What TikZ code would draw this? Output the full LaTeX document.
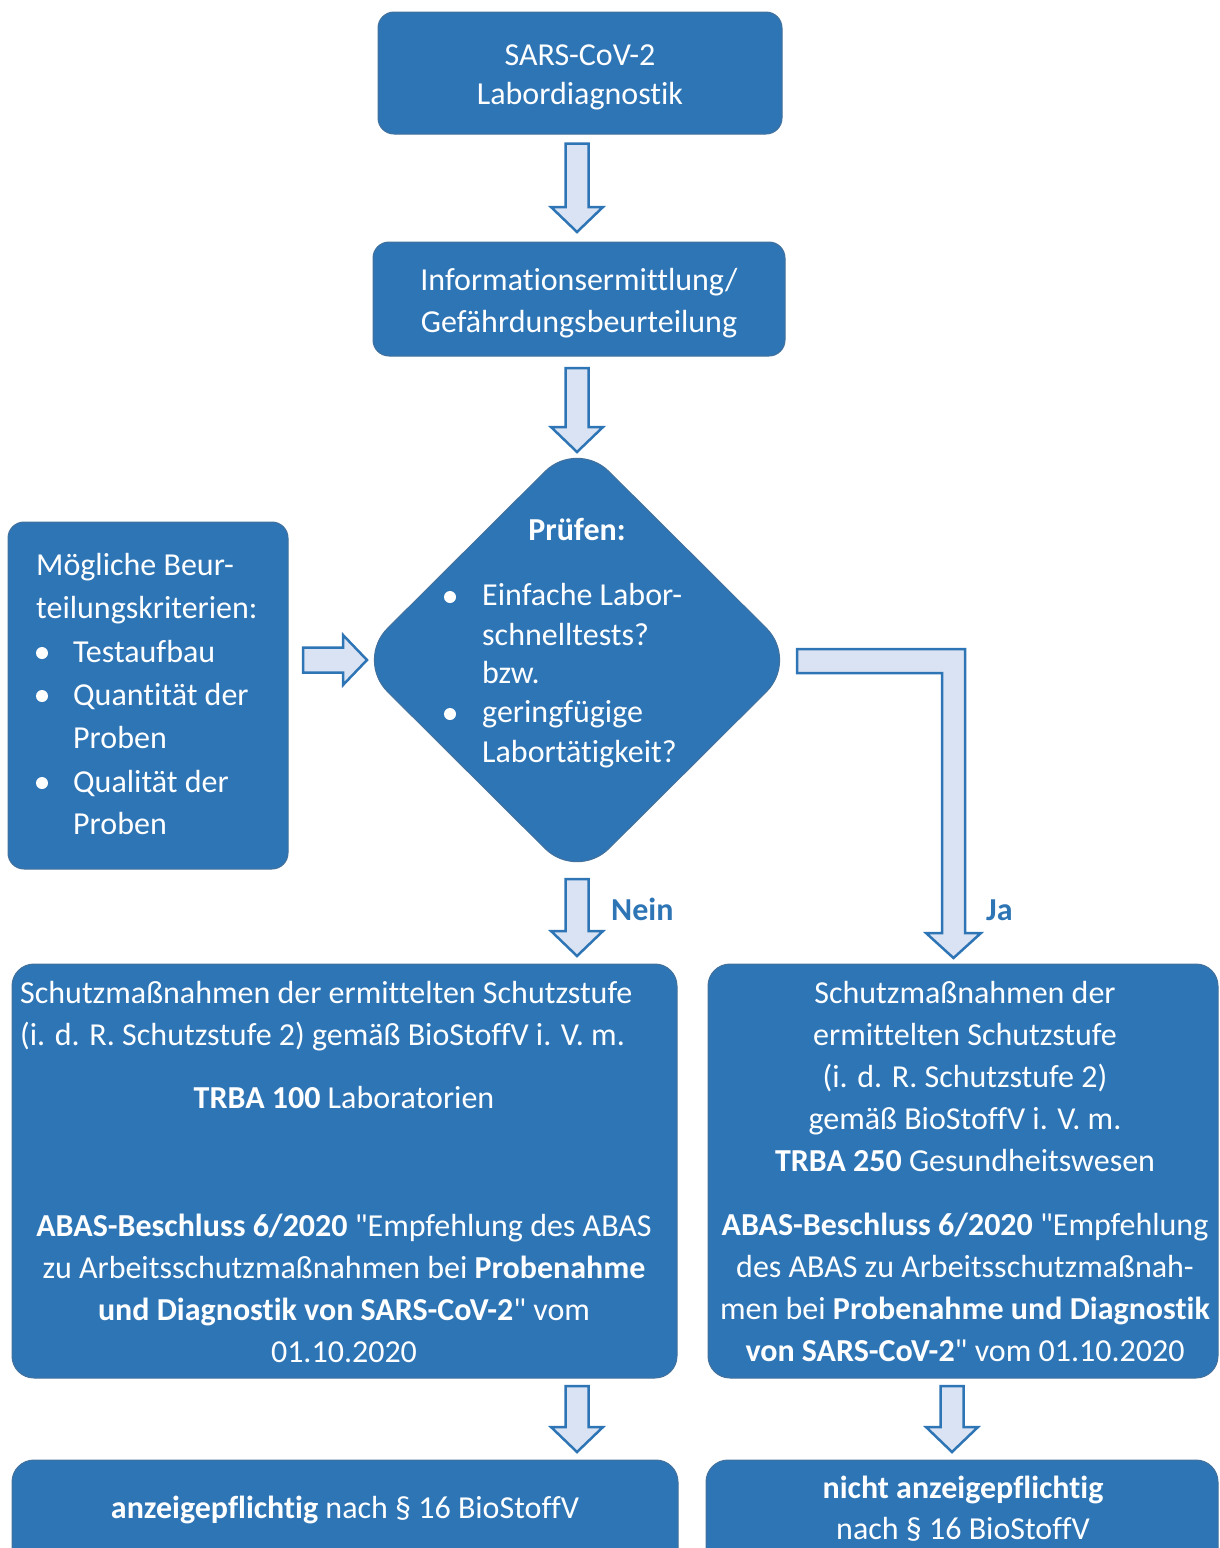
\documentclass[tikz,border=0pt]{standalone}
\usepackage{fontspec}
\setmainfont{Carlito}[Ligatures={TeXOff,CommonOff}]
\usetikzlibrary{shapes.geometric,calc}
\definecolor{boxblue}{HTML}{2E75B6}
\definecolor{boxedge}{HTML}{41719C}
\definecolor{arrowfill}{HTML}{DAE3F3}
\tikzset{
  box/.style={rounded corners=16pt, fill=boxblue, draw=boxedge, line width=1pt, inner sep=0pt},
  bigbox/.style={box, rounded corners=22pt},
  txt/.style={text=white, font=\fontsize{32}{42}\selectfont, inner sep=0pt},
  blk/.style={fill=arrowfill, draw=boxblue, line width=2.5pt, line join=miter},
  lbl/.style={text=boxblue, font=\fontsize{32}{42}\selectfont\bfseries, inner sep=0pt},
  bul/.style={fill=white}
}
\newcommand\blkdown[2]{\draw[blk] let \p1=(#1),\p2=(#2) in
  (\x1-11.5pt,\y1) -- (\x1+11.5pt,\y1) -- (\x1+11.5pt,\y2+25pt) -- (\x1+26pt,\y2+25pt)
  -- (\x1,\y2) -- (\x1-26pt,\y2+25pt) -- (\x1-11.5pt,\y2+25pt) -- cycle;}
\begin{document}
\begin{tikzpicture}[x=1pt,y=-1pt]
\useasboundingbox (0,0) rectangle (1219,1548);
\clip (0,0) rectangle (1219,1548);

% boxes
\node[box, minimum width=404pt, minimum height=122pt] (b1) at (580,73) {};
\node[box, minimum width=412pt, minimum height=114pt] (b2) at (579,299) {};
\node[diamond, aspect=1, fill=boxblue, draw=boxedge, line width=1pt, rounded corners=45pt,
      minimum width=443pt, minimum height=441pt, inner sep=0pt] (dia) at (577,660) {};
\node[box, minimum width=280pt, minimum height=347pt] (lb) at (148,695.5) {};
\node[bigbox, minimum width=665pt, minimum height=414pt] (nl) at (344.5,1171) {};
\node[bigbox, minimum width=510pt, minimum height=414pt] (nr) at (963,1171) {};
\node[bigbox, minimum width=666pt, minimum height=160pt] (el) at (345,1540) {};
\node[bigbox, minimum width=512pt, minimum height=160pt] (er) at (962,1540) {};

% texts
\node[txt, anchor=base] (t1a) at (580,65) {SARS-CoV-2};
\node[txt, anchor=base] (t1b) at (580,104) {Labordiagnostik};
\node[txt, anchor=base] (t2a) at (579,290) {Informationsermittlung/};
\node[txt, anchor=base] (t2b) at (579,332) {Gefährdungsbeurteilung};

\node[txt, anchor=base, font=\fontsize{32}{42}\selectfont\bfseries] (dp) at (577,540) {Prüfen:};
\foreach \s/\y [count=\i] in {{Einfache Labor-}/605, {schnelltests?}/645, {bzw.}/683, {geringfügige}/722, {Labortätigkeit?}/762}
  \node[txt, anchor=base west] (d\i) at (482,\y) {\s};
\fill[bul] (450,597) circle (6pt);
\fill[bul] (450,714) circle (6pt);

\node[txt, anchor=base west] (l1) at (36,575) {Mögliche Beur-};
\node[txt, anchor=base west] (l2) at (36,618) {teilungskriterien:};
\foreach \s/\y [count=\i from 3] in {{Testaufbau}/662, {Quantität der}/705, {Proben}/748, {Qualität der}/792, {Proben}/834}
  \node[txt, anchor=base west] (l\i) at (73,\y) {\s};
\fill[bul] (42,653) circle (6pt);
\fill[bul] (42,696) circle (6pt);
\fill[bul] (42,783) circle (6pt);

\node[txt, anchor=base west] (n1) at (20,1003) {Schutzmaßnahmen der ermittelten Schutzstufe};
\node[txt, anchor=base west] (n2) at (20,1045) {(i. d. R. Schutzstufe 2) gemäß BioStoffV i. V. m.};
\node[txt, anchor=base] (n3) at (344,1108) {\textbf{TRBA 100} Laboratorien};
\foreach \s/\y [count=\i from 4] in {
  {\textbf{ABAS-Beschluss 6/2020} "Empfehlung des ABAS}/1236,
  {zu Arbeitsschutzmaßnahmen bei \textbf{Probenahme}}/1278,
  {\textbf{und Diagnostik von SARS-CoV-2}" vom}/1320,
  {01.10.2020}/1362}
  \node[txt, anchor=base] (n\i) at (344,\y) {\s};

\foreach \s/\y [count=\i] in {
  {Schutzmaßnahmen der}/1003,
  {ermittelten Schutzstufe}/1045,
  {(i. d. R. Schutzstufe 2)}/1087,
  {gemäß BioStoffV i. V. m.}/1129,
  {\textbf{TRBA 250} Gesundheitswesen}/1171,
  {\textbf{ABAS-Beschluss 6/2020} "Empfehlung}/1235,
  {des ABAS zu Arbeitsschutzmaßnah-}/1277,
  {men bei \textbf{Probenahme und Diagnostik}}/1319,
  {\textbf{von SARS-CoV-2}" vom 01.10.2020}/1361}
  \node[txt, anchor=base] (r\i) at (965,\y) {\s};

\node[txt, anchor=base] (e1) at (345,1518) {\textbf{anzeigepflichtig} nach § 16 BioStoffV};
\node[txt, anchor=base] (e2) at (963,1498) {\textbf{nicht anzeigepflichtig}};
\node[txt, anchor=base] (e3) at (963,1539) {nach § 16 BioStoffV};

\node[lbl, anchor=base west] (nein) at (611,920) {Nein};
\node[lbl, anchor=base west] (ja) at (986,920) {Ja};

% connectors
\coordinate (a1s) at (b1.south -| dia.north); \coordinate (a1e) at (577,232);
\path (a1s) ++(0,9) coordinate (a1s);
\blkdown{a1s}{a1e}
\coordinate (a2s) at (577,368); \coordinate (a2e) at (577,452);
\blkdown{a2s}{a2e}
\coordinate (a3s) at (577,879); \coordinate (a3e) at (577,956);
\blkdown{a3s}{a3e}
\coordinate (a4s) at (577,1386); \coordinate (a4e) at (577,1452);
\blkdown{a4s}{a4e}
\coordinate (a5s) at (952,1386); \coordinate (a5e) at (952,1452);
\blkdown{a5s}{a5e}

\coordinate (rs) at (303,660); \coordinate (re) at (367,660);
\draw[blk] let \p1=(rs),\p2=(re) in
  (\x1,\y1+12.5pt) -- (\x2-24pt,\y1+12.5pt) -- (\x2-24pt,\y1+25pt) -- (\x2,\y1)
  -- (\x2-24pt,\y1-25pt) -- (\x2-24pt,\y1-12.5pt) -- (\x1,\y1-12.5pt) -- cycle;

\coordinate (js) at (797,661); \coordinate (je) at (953.5,958);
\draw[blk] let \p1=(js),\p2=(je) in
  (\x1,\y1+12pt) -- (\x2+11.5pt,\y1+12pt) -- (\x2+11.5pt,\y2+25pt) -- (\x2+27.5pt,\y2+25pt)
  -- (\x2,\y2) -- (\x2-27.5pt,\y2+25pt) -- (\x2-11.5pt,\y2+25pt) -- (\x2-11.5pt,\y1-12pt)
  -- (\x1,\y1-12pt) -- cycle;
\end{tikzpicture}
\end{document}
